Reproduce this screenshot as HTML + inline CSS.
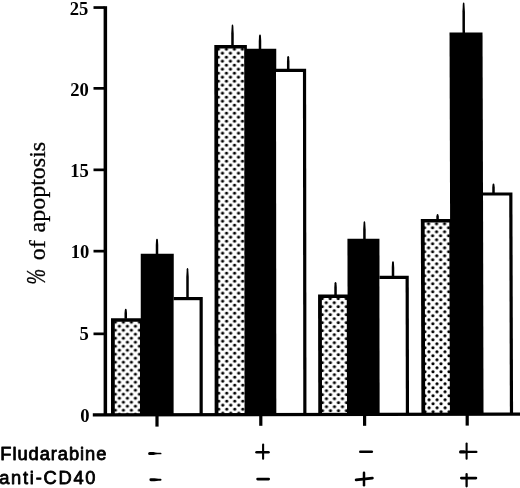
<!DOCTYPE html>
<html>
<head>
<meta charset="utf-8">
<title>Apoptosis chart</title>
<style>
html,body{margin:0;padding:0;background:#fff;}
body{width:520px;height:488px;overflow:hidden;position:relative;}
svg{position:absolute;left:0;top:0;display:block;filter:blur(0.35px);}
text{fill:#000;stroke:#000;stroke-width:0.8px;stroke-linejoin:round;}
.ser text,text.ser{stroke-width:0.3px;}
.tk text{font-weight:bold;stroke-width:0;stroke:none;}
.ser{font-family:"Liberation Serif",serif;}
.san{font-family:"Liberation Sans",sans-serif;}
</style>
</head>
<body>
<svg width="520" height="488" viewBox="0 0 520 488">
<defs>
<pattern id="dots" x="0" y="0" width="8" height="8" patternUnits="userSpaceOnUse">
<rect width="8" height="8" fill="#fff"/>
<circle cx="0" cy="0" r="1.62" fill="#000"/><circle cx="8" cy="0" r="1.62" fill="#000"/>
<circle cx="0" cy="8" r="1.62" fill="#000"/><circle cx="8" cy="8" r="1.62" fill="#000"/>
<circle cx="4" cy="4" r="1.62" fill="#000"/>
</pattern>
</defs>
<rect width="520" height="488" fill="#fff"/>

<!-- y tick labels -->
<g class="ser tk" font-size="18.6" text-anchor="end">
<text x="88.4" y="14.8">25</text>
<text x="88.8" y="96.0">20</text>
<text x="88.8" y="176.8">15</text>
<text x="89.3" y="258.4">10</text>
<text x="88.8" y="339.7">5</text>
<text x="89.6" y="421.5">0</text>
</g>

<!-- y label -->
<g class="ser" font-size="24" transform="translate(45.3,284.5) rotate(-90)">
<text x="0" y="0" font-style="italic" transform="scale(0.78,1.13)">%</text>
<text x="24.2" y="0">of</text>
<text x="52" y="0">apoptosis</text>
</g>

<!-- bars -->
<!--BARS-->
<g transform="translate(0.000,0) skewX(0.0000)">
<rect x="111.00" y="318.25" width="31.65" height="96.25" fill="#000"/>
<g transform="translate(103.40,-1.80)"><rect x="11.40" y="323.55" width="25.15" height="92.75" fill="url(#dots)"/></g>
<path d="M124.50,318.75 L127.00,318.75 L127.00,313.02 L126.70,309.95 Q126.51,308.75 125.75,308.75 Q124.99,308.75 124.80,309.95 L124.50,313.02 Z" fill="#000"/>
<rect x="140.75" y="253.75" width="33.00" height="160.75" fill="#000"/>
<path d="M155.75,254.25 L158.25,254.25 L158.25,245.50 L157.95,239.95 Q157.76,238.75 157.00,238.75 Q156.24,238.75 156.05,239.95 L155.75,245.50 Z" fill="#000"/>
<rect x="173.75" y="297.00" width="29.00" height="117.50" fill="#000"/>
<rect x="173.75" y="300.20" width="25.80" height="114.30" fill="#fff"/>
<path d="M186.25,297.50 L188.75,297.50 L188.75,277.00 L188.30,269.20 Q188.14,268.00 187.50,268.00 Q186.86,268.00 186.70,269.20 L186.25,277.00 Z" fill="#000"/>
</g>
<g transform="translate(-0.045,0) skewX(0.0573)">
<rect x="214.30" y="45.00" width="32.60" height="369.50" fill="#000"/>
<g transform="translate(206.40,-2.80)"><rect x="11.70" y="51.30" width="26.10" height="366.00" fill="url(#dots)"/></g>
<path d="M231.25,45.50 L233.75,45.50 L233.75,33.50 L233.30,25.70 Q233.14,24.50 232.50,24.50 Q231.86,24.50 231.70,25.70 L231.25,33.50 Z" fill="#000"/>
<rect x="245.00" y="48.75" width="31.25" height="365.75" fill="#000"/>
<path d="M258.75,49.25 L261.25,49.25 L261.25,40.91 L260.95,35.70 Q260.76,34.50 260.00,34.50 Q259.24,34.50 259.05,35.70 L258.75,40.91 Z" fill="#000"/>
<rect x="276.00" y="68.70" width="30.10" height="345.80" fill="#000"/>
<rect x="276.00" y="71.90" width="26.90" height="342.60" fill="#fff"/>
<path d="M286.95,69.20 L289.45,69.20 L289.45,61.77 L289.15,57.30 Q288.96,56.10 288.20,56.10 Q287.44,56.10 287.25,57.30 L286.95,61.77 Z" fill="#000"/>
</g>
<g transform="translate(-0.540,0) skewX(0.1146)">
<rect x="318.00" y="294.50" width="31.40" height="120.00" fill="#000"/>
<g transform="translate(310.20,-1.30)"><rect x="11.60" y="299.30" width="24.90" height="116.50" fill="url(#dots)"/></g>
<path d="M334.25,295.00 L336.75,295.00 L336.75,287.62 L336.45,283.20 Q336.26,282.00 335.50,282.00 Q334.74,282.00 334.55,283.20 L334.25,287.62 Z" fill="#000"/>
<rect x="347.50" y="238.75" width="32.00" height="175.75" fill="#000"/>
<path d="M363.25,239.25 L365.75,239.25 L365.75,229.12 L365.30,222.45 Q365.14,221.25 364.50,221.25 Q363.86,221.25 363.70,222.45 L363.25,229.12 Z" fill="#000"/>
<rect x="379.50" y="275.75" width="29.25" height="138.75" fill="#000"/>
<rect x="379.50" y="278.95" width="26.05" height="135.55" fill="#fff"/>
<path d="M391.75,276.25 L394.25,276.25 L394.25,267.77 L393.95,262.45 Q393.76,261.25 393.00,261.25 Q392.24,261.25 392.05,262.45 L391.75,267.77 Z" fill="#000"/>
</g>
<g transform="translate(-0.570,0) skewX(0.1719)">
<rect x="420.75" y="219.10" width="31.15" height="195.40" fill="#000"/>
<g transform="translate(412.45,-0.20)"><rect x="12.10" y="222.80" width="24.65" height="191.90" fill="url(#dots)"/></g>
<path d="M436.25,219.60 L438.75,219.60 L438.75,216.29 L438.45,215.20 Q438.26,214.00 437.50,214.00 Q436.74,214.00 436.55,215.20 L436.25,216.29 Z" fill="#000"/>
<rect x="450.00" y="32.40" width="33.00" height="382.10" fill="#000"/>
<path d="M462.95,32.90 L465.45,32.90 L465.45,11.60 L465.00,3.80 Q464.84,2.60 464.20,2.60 Q463.56,2.60 463.40,3.80 L462.95,11.60 Z" fill="#000"/>
<rect x="483.00" y="192.40" width="29.40" height="222.10" fill="#000"/>
<rect x="483.00" y="195.60" width="26.20" height="218.90" fill="#fff"/>
<path d="M492.25,192.90 L494.75,192.90 L494.75,187.50 L494.45,184.70 Q494.26,183.50 493.50,183.50 Q492.74,183.50 492.55,184.70 L492.25,187.50 Z" fill="#000"/>
</g>
<!--/BARS-->

<!-- axes -->
<rect x="103.6" y="6.2" width="3.5" height="409" fill="#000"/>
<polygon points="92.8,413.2 520,412.4 520,415.8 92.8,416.6" fill="#000"/>
<!-- y ticks -->
<rect x="93.5" y="6.2" width="11" height="2.7" fill="#000"/>
<rect x="93.5" y="87.0" width="11" height="2.7" fill="#000"/>
<rect x="93.5" y="168.5" width="11" height="2.7" fill="#000"/>
<rect x="93.5" y="249.8" width="11" height="2.7" fill="#000"/>
<rect x="93.5" y="332.5" width="11" height="2.7" fill="#000"/>
<!-- x ticks -->
<rect x="155.4" y="414" width="3.2" height="12.6" fill="#000"/>
<rect x="259.2" y="414" width="3.2" height="11.8" fill="#000"/>
<rect x="363" y="414" width="3.2" height="11.8" fill="#000"/>
<rect x="465.6" y="414" width="3.2" height="11.6" fill="#000"/>

<!-- bottom labels -->
<text class="san" font-size="18.3" x="0.3" y="460" letter-spacing="0.95">Fludarabine</text>
<text class="san" font-size="18.3" x="-0.8" y="484" letter-spacing="1.75">anti-CD40</text>

<g fill="none" stroke="#000" stroke-linecap="round">
<!--SIGNS-->
<path stroke="none" fill="#000" d="M148.10,453.50 Q148.10,451.90 149.70,451.90 L153.50,451.90 Q155.50,452.65 157.50,452.65 L160.65,452.65 Q161.50,452.65 161.50,453.50 Q161.50,454.35 160.65,454.35 L157.50,454.35 Q155.50,454.35 153.50,455.10 L149.70,455.10 Q148.10,455.10 148.10,453.50 Z"/>
<path stroke="none" fill="#000" d="M149.40,479.75 Q149.40,478.30 150.85,478.30 L154.50,478.30 Q156.50,478.75 158.50,478.75 L160.50,478.75 Q161.50,478.75 161.50,479.75 Q161.50,480.75 160.50,480.75 L158.50,480.75 Q156.50,480.75 154.50,481.20 L150.85,481.20 Q149.40,481.20 149.40,479.75 Z"/>
<line x1="256.55" y1="452.25" x2="268.45" y2="452.25" stroke-width="2.60"/>
<line x1="263.10" y1="444.55" x2="263.10" y2="458.70" stroke-width="2.10"/>
<line x1="257.55" y1="479.10" x2="268.70" y2="479.10" stroke-width="2.60"/>
<line x1="360.30" y1="451.75" x2="371.80" y2="451.75" stroke-width="2.60"/>
<line x1="356.14" y1="479.85" x2="372.36" y2="478.05" stroke-width="2.80"/>
<line x1="364.00" y1="472.85" x2="364.00" y2="485.35" stroke-width="2.50"/>
<path stroke="none" fill="#000" d="M459.00,451.90 Q459.00,450.30 460.60,450.30 L464.00,450.30 Q466.00,450.80 468.00,450.80 L476.40,450.80 Q477.50,450.80 477.50,451.90 Q477.50,453.00 476.40,453.00 L468.00,453.00 Q466.00,453.00 464.00,453.50 L460.60,453.50 Q459.00,453.50 459.00,451.90 Z"/>
<line x1="466.60" y1="443.55" x2="466.60" y2="458.70" stroke-width="2.10"/>
<line x1="461.30" y1="478.10" x2="475.95" y2="478.10" stroke-width="2.60"/>
<line x1="466.60" y1="474.05" x2="466.60" y2="486.35" stroke-width="2.30"/>
<!--/SIGNS-->
</g>
</svg>
</body>
</html>
